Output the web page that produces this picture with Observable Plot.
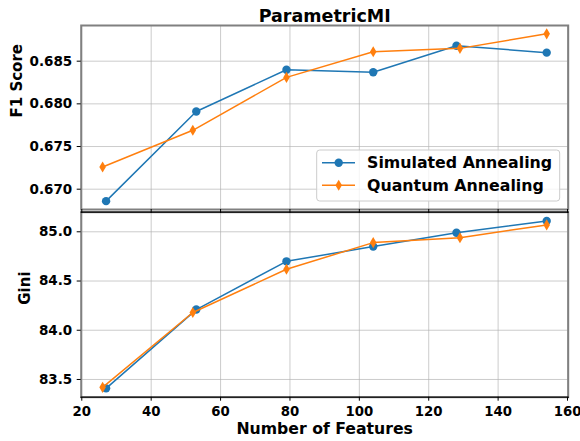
<!DOCTYPE html>
<html><head><meta charset="utf-8">
<script src="https://cdn.jsdelivr.net/npm/d3@7"></script>
<script src="https://cdn.jsdelivr.net/npm/@observablehq/plot@0.6"></script>
<style>
html,body{margin:0;padding:0;background:#fff;}
#chart{position:relative;width:580px;height:441px;font-family:"DejaVu Sans",sans-serif;background:#fff;}
#chart svg{position:absolute;left:0;overflow:visible;}
</style></head><body><div id="chart"></div>
<script>
// ---- data ----
const title = "ParametricMI";
const xLabel = "Number of Features";
const f1Label = "F1 Score";
const giniLabel = "Gini";
const seriesNames = ["Simulated Annealing", "Quantum Annealing"];
const featuresSA = [27, 53, 79, 104, 128, 154];
const featuresQA = [26, 52, 79, 104, 129, 154];
const f1SA = [0.6686, 0.6791, 0.6840, 0.6837, 0.6868, 0.6860];
const f1QA = [0.6726, 0.6769, 0.6831, 0.6861, 0.6865, 0.6882];
const giniSA = [83.41, 84.21, 84.70, 84.85, 84.99, 85.11];
const giniQA = [83.42, 84.18, 84.62, 84.89, 84.94, 85.07];
const xTicks = [20, 40, 60, 80, 100, 120, 140, 160];
const f1Ticks = [0.670, 0.675, 0.680, 0.685];
const giniTicks = [83.5, 84.0, 84.5, 85.0];
const colors = ["#1f77b4", "#ff7f0e"];

const sa = featuresSA.map((x, i) => ({x, f1: f1SA[i], gini: giniSA[i]}));
const qa = featuresQA.map((x, i) => ({x, f1: f1QA[i], gini: giniQA[i]}));

const thinDiamond = {draw(ctx, size) {
  const r = Math.sqrt(size / Math.PI);
  ctx.moveTo(0, -1.35 * r); ctx.lineTo(0.8 * r, 0); ctx.lineTo(0, 1.35 * r); ctx.lineTo(-0.8 * r, 0); ctx.closePath();
}};

const font = "DejaVu Sans";
const gridStyle = {stroke: "#b0b0b0", strokeOpacity: 0.65, strokeWidth: 1};
const xDomain = [19.83, 160.2];

function seriesMarks(key) {
  return [
    Plot.line(sa, {x: "x", y: key, stroke: colors[0], strokeWidth: 1.5}),
    Plot.dot(sa, {x: "x", y: key, r: 4.2, fill: colors[0], stroke: "none"}),
    Plot.line(qa, {x: "x", y: key, stroke: colors[1], strokeWidth: 1.5}),
    Plot.dot(qa, {x: "x", y: key, r: 4.1, symbol: thinDiamond, fill: colors[1], stroke: "none"})
  ];
}

const topPlot = Plot.plot({
  width: 580, height: 211,
  marginTop: 25, marginBottom: 2, marginLeft: 80.7, marginRight: 12.3,
  style: {fontFamily: font, background: "none", overflow: "visible"},
  x: {domain: xDomain, axis: null, label: null},
  y: {domain: [0.66762, 0.68918], axis: null, label: null},
  marks: [
    Plot.gridX(xTicks, gridStyle),
    Plot.gridY(f1Ticks, gridStyle),
    ...seriesMarks("f1"),
    Plot.frame({stroke: "#808080", strokeWidth: 2}),
    Plot.axisY(f1Ticks, {anchor: "left", tickSize: 4, tickPadding: 5, tickFormat: d3.format(".3f"), fontSize: 13.5, fontWeight: "bold", label: null}),
    Plot.axisX(xTicks, {anchor: "bottom", tickSize: 4, tickFormat: () => "", label: null}),
    Plot.text([f1Label], {frameAnchor: "left", dx: -70, rotate: -90, lineAnchor: "top", fontSize: 15, fontWeight: "bold"}),
    Plot.text([title], {frameAnchor: "top", dy: -4, lineAnchor: "bottom", fontSize: 17.5, fontWeight: "bold"})
  ]
});
topPlot.style.top = "0px";

const bottomPlot = Plot.plot({
  width: 580, height: 230,
  marginTop: 0.7, marginBottom: 44.3, marginLeft: 80.7, marginRight: 12.3,
  style: {fontFamily: font, background: "none", overflow: "visible"},
  x: {domain: xDomain, axis: null, label: null},
  y: {domain: [83.32, 85.199], axis: null, label: null},
  marks: [
    Plot.gridX(xTicks, gridStyle),
    Plot.gridY(giniTicks, gridStyle),
    ...seriesMarks("gini"),
    Plot.frame({stroke: "#808080", strokeWidth: 2}),
    Plot.frame({anchor: "top", stroke: "black", strokeWidth: 1.2}),
    Plot.frame({anchor: "bottom", stroke: "#222", strokeWidth: 1.5}),
    Plot.axisY(giniTicks, {anchor: "left", tickSize: 4, tickPadding: 5, tickFormat: d3.format(".1f"), fontSize: 13.5, fontWeight: "bold", label: null}),
    Plot.axisX(xTicks, {anchor: "bottom", tickSize: 4, tickPadding: 5, tickFormat: d3.format("d"), fontSize: 13.3, fontWeight: "bold", label: null}),
    Plot.text([giniLabel], {frameAnchor: "left", dx: -61.4, rotate: -90, lineAnchor: "top", fontSize: 15, fontWeight: "bold"}),
    Plot.text([xLabel], {frameAnchor: "bottom", dy: 36.5, lineAnchor: "bottom", fontSize: 15.7, fontWeight: "bold"})
  ]
});
bottomPlot.style.top = "211px";

const chart = document.getElementById("chart");
chart.appendChild(bottomPlot);
chart.appendChild(topPlot);

// ---- legend ----
const leg = d3.select(chart).append("svg")
  .attr("width", 580).attr("height", 441).style("top", "0px");
const lx = 316.7, ly = 150, lw = 243, lh = 51;
leg.append("rect").attr("x", lx).attr("y", ly).attr("width", lw).attr("height", lh)
  .attr("rx", 3).attr("fill", "white").attr("fill-opacity", 0.8).attr("stroke", "#cccccc").attr("stroke-width", 1);
const rowY = [162.7, 185.3];
seriesNames.forEach((name, i) => {
  const g = leg.append("g");
  g.append("line").attr("x1", 322).attr("x2", 355).attr("y1", rowY[i]).attr("y2", rowY[i])
    .attr("stroke", colors[i]).attr("stroke-width", 1.5);
  const sym = i === 0 ? d3.symbolCircle : thinDiamond;
  const r = i === 0 ? 4.2 : 4.1;
  g.append("path").attr("d", d3.symbol(sym, r * r * Math.PI)())
    .attr("transform", `translate(338.7,${rowY[i]})`).attr("fill", colors[i]);
  g.append("text").attr("x", 367).attr("y", rowY[i]).attr("dy", "0.36em")
    .attr("font-family", font).attr("font-size", 15.8).attr("font-weight", "bold").text(name);
});
</script></body></html>
